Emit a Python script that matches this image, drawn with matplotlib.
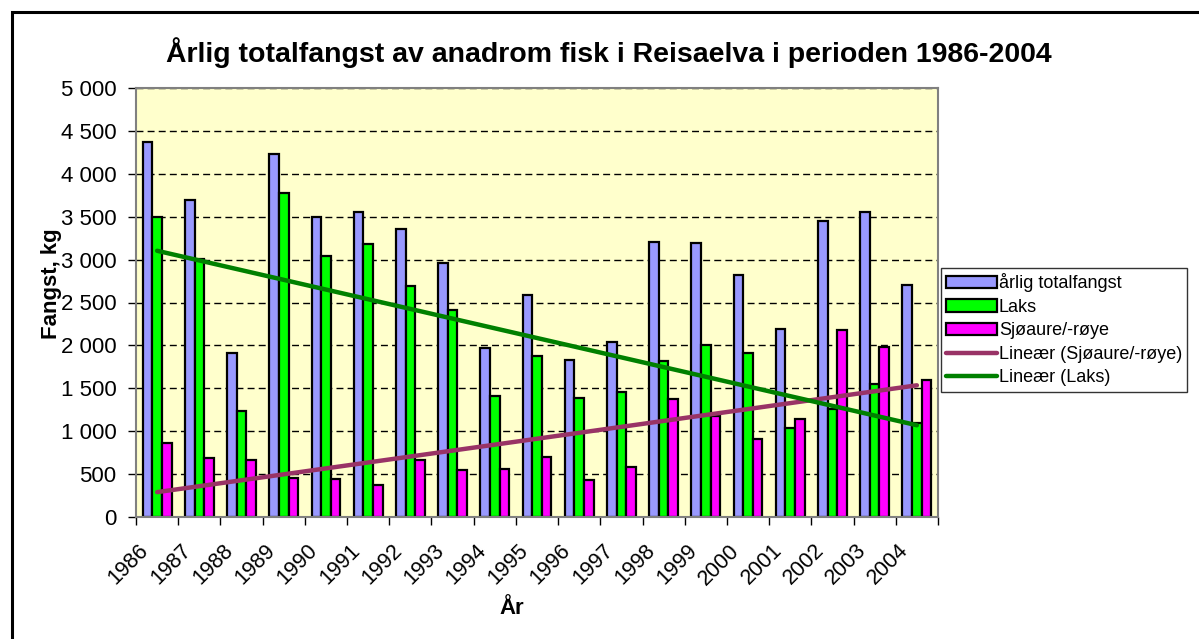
import numpy as np
import matplotlib as mpl
mpl.use("Agg")
import matplotlib.pyplot as plt
import matplotlib.transforms as mtransforms
from matplotlib.patches import Patch, Rectangle
from matplotlib.lines import Line2D
from matplotlib.ticker import FuncFormatter

# data
years = [str(y) for y in range(1986, 2005)]
total = [4365, 3694, 1910, 4232, 3492, 3550, 3355, 2966, 1972, 2584,
         1832, 2042, 3203, 3199, 2821, 2190, 3445, 3550, 2708]
laks = [3496, 3005, 1235, 3772, 3040, 3176, 2689, 2416, 1411, 1882,
        1391, 1454, 1820, 1999, 1906, 1040, 1259, 1551, 1095]
sjo = [861, 686, 666, 456, 440, 370, 659, 553, 561, 698,
       429, 585, 1376, 1181, 908, 1142, 2175, 1987, 1602]

mpl.rcParams["font.family"] = ["Liberation Sans", "DejaVu Sans"]

fig = plt.figure(figsize=(11.99, 6.39), dpi=100)
ax = fig.add_axes([136 / 1199, 1 - 517 / 639, (938 - 136) / 1199, (517 - 88) / 639])
ax.set_facecolor("#FFFFCC")

x = np.arange(len(years))
w = 0.228
ax.bar(x - w, total, w, color="#9999FF", edgecolor="black", linewidth=1.6, zorder=2)
ax.bar(x, laks, w, color="#00FF00", edgecolor="black", linewidth=1.6, zorder=2)
ax.bar(x + w, sjo, w, color="#FF00FF", edgecolor="black", linewidth=1.6, zorder=2)

# linear trend lines (Excel "Lineær")
p_sjo = np.polyfit(x, sjo, 1)
p_laks = np.polyfit(x, laks, 1)
ax.plot(x, np.polyval(p_sjo, x), color="#993366", lw=3.2, zorder=3, solid_capstyle="round")
ax.plot(x, np.polyval(p_laks, x), color="#008000", lw=3.2, zorder=3, solid_capstyle="round")

ax.set_xlim(-0.5, len(years) - 0.5)
ax.set_ylim(0, 5000)
ax.set_yticks(np.arange(0, 5001, 500))
ax.yaxis.set_major_formatter(FuncFormatter(lambda v, p: f"{v:,.0f}".replace(",", " ")))
ax.tick_params(axis="y", labelsize=16, length=6, width=1, pad=8)
ax.grid(axis="y", color="black", linestyle=(0, (5, 3)), linewidth=1, zorder=1)
ax.set_axisbelow(True)

# category labels drawn as rotated texts, ticks between categories
ax.set_xticks(x)
ax.set_xticklabels([])
ax.tick_params(axis="x", which="major", length=0)
ax.set_xticks(np.arange(-0.5, len(years)), minor=True)
ax.tick_params(axis="x", which="minor", length=6, width=1)
lab_tr = mtransforms.offset_copy(ax.get_xaxis_transform(), fig=fig, x=-19, y=-23, units="dots")
for i, yr in zip(x, years):
    ax.text(i, 0, yr, transform=lab_tr, rotation=45, ha="right", va="top",
            rotation_mode="anchor", fontsize=15.5, clip_on=False)

for s in ["top", "right", "left", "bottom"]:
    ax.spines[s].set_color("#808080")
    ax.spines[s].set_linewidth(1.5)

fig.text(609 / 1199, 1 - 53 / 639,
         "Årlig totalfangst av anadrom fisk i Reisaelva i perioden 1986-2004",
         ha="center", va="center", fontsize=20.5, fontweight="bold")
fig.text(51 / 1199, 1 - 284 / 639, "Fangst, kg", rotation=90,
         ha="center", va="center", fontsize=16, fontweight="bold")
fig.text(512 / 1199, 1 - 608 / 639, "År", ha="center", va="center",
         fontsize=16, fontweight="bold")

handles = [
    Patch(facecolor="#9999FF", edgecolor="black", linewidth=1.6),
    Patch(facecolor="#00FF00", edgecolor="black", linewidth=1.6),
    Patch(facecolor="#FF00FF", edgecolor="black", linewidth=1.6),
    Line2D([], [], color="#993366", lw=3.2, solid_capstyle="round"),
    Line2D([], [], color="#008000", lw=3.2, solid_capstyle="round"),
]
labels = ["årlig totalfangst", "Laks", "Sjøaure/-røye",
          "Lineær (Sjøaure/-røye)", "Lineær (Laks)"]
leg = fig.legend(handles, labels, loc="upper left",
                 bbox_to_anchor=(941 / 1199, 1 - 268 / 639),
                 fontsize=13, frameon=True, fancybox=False, shadow=False,
                 handlelength=2.8, handleheight=0.7, handletextpad=0.1,
                 labelspacing=0.36, borderpad=0.3, borderaxespad=0)
leg.get_frame().set_edgecolor("black")
leg.get_frame().set_linewidth(1)

# outer chart frame (cropped at right and bottom in the reference)
fig.add_artist(Rectangle((12 / 1199, -0.2), 1.5, 1.2 - 12 / 639,
                         transform=fig.transFigure, fill=False,
                         edgecolor="black", linewidth=2.2))

fig.savefig("out.png", dpi=100)
